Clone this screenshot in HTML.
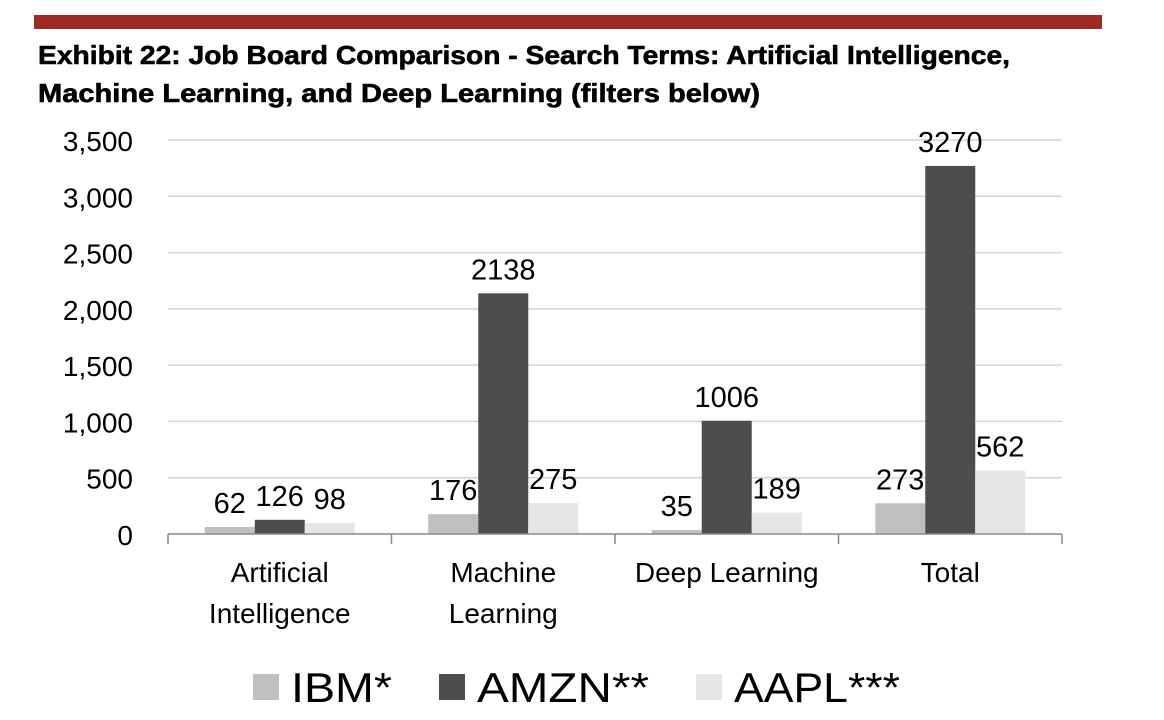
<!DOCTYPE html>
<html><head><meta charset="utf-8"><style>
html,body{margin:0;padding:0;background:#fff;}
svg{display:block;font-family:"Liberation Sans","DejaVu Sans",sans-serif;}
</style></head><body>
<svg id="chart" width="1164" height="720" viewBox="0 0 1164 720" xmlns="http://www.w3.org/2000/svg">
<rect x="34" y="15" width="1068" height="14" fill="#9e2a23"/>
<text x="38" y="64" font-size="26" font-weight="bold" stroke="#000" stroke-width="0.6" textLength="972" lengthAdjust="spacingAndGlyphs">Exhibit 22: Job Board Comparison - Search Terms: Artificial Intelligence,</text>
<text x="38" y="102" font-size="26" font-weight="bold" stroke="#000" stroke-width="0.6" textLength="722" lengthAdjust="spacingAndGlyphs">Machine Learning, and Deep Learning (filters below)</text>
<g id="grid"></g><g id="bars"></g><g id="axis"></g><g id="legend"></g>
</svg>
<script>
const categories = [["Artificial","Intelligence"],["Machine","Learning"],["Deep Learning"],["Total"]];
const seriesNames = ["IBM*","AMZN**","AAPL***"];
const ibm = [62,176,35,273];
const amzn = [126,2138,1006,3270];
const aapl = [98,275,189,562];
const yTicks = [0,500,1000,1500,2000,2500,3000,3500];
const yTickLabels = ["0","500","1,000","1,500","2,000","2,500","3,000","3,500"];
const series = [ibm,amzn,aapl];
const colors = ["#bfbfbf","#4d4d4d","#e6e6e6"];
const NS="http://www.w3.org/2000/svg";
const x0=168,x1=1062,yBase=534,yTop=140,yMax=3500;
const y=v=>yBase-(v/yMax)*(yBase-yTop);
const gw=(x1-x0)/categories.length, bw=50, pad=(gw-3*bw)/2;
function mk(t,a,p){const e=document.createElementNS(NS,t);for(const k in a)e.setAttribute(k,a[k]);p.appendChild(e);return e;}
const grid=document.getElementById('grid'),bars=document.getElementById('bars'),axis=document.getElementById('axis'),legend=document.getElementById('legend');
yTicks.forEach((t,i)=>{
  if(t>0){const l=mk('line',{x1:x0,x2:x1,y1:y(t),y2:y(t),stroke:'#d4d4d4','stroke-width':1.5},grid);
  
  }
  const tx=mk('text',{x:133,y:y(t)+11,'font-size':28,'text-anchor':'end',fill:'#000'},axis);
  tx.textContent=yTickLabels[i];
  
  
});
categories.forEach((c,ci)=>{
  series.forEach((s,si)=>{
    const bx=x0+ci*gw+pad+si*bw;
    const r=mk('rect',{x:bx,y:y(s[ci]),width:bw,height:yBase-y(s[ci]),fill:colors[si]},bars);
    
    
    const lb=mk('text',{x:bx+bw/2,y:y(s[ci])-14,'font-size':29,'text-anchor':'middle',fill:'#000'},bars);
    lb.textContent=s[ci];
    
    
  });
  const cx=x0+ci*gw+gw/2;
  c.forEach((line,li)=>{
    const t=mk('text',{x:cx,y:582+li*41,'font-size':28,'text-anchor':'middle',fill:'#000'},axis);
    t.textContent=line;
    
    
  });
});
const ax=mk('line',{x1:x0,x2:x1,y1:yBase,y2:yBase,stroke:'#888','stroke-width':1.5},axis);


for(let i=0;i<=categories.length;i++){
  const tk=mk('line',{x1:x0+i*gw,x2:x0+i*gw,y1:yBase,y2:yBase+10,stroke:'#888','stroke-width':1.5},axis);
  
  
}
const legX=[253,439,696], legW=[101,172,166];
seriesNames.forEach((n,i)=>{
  const sq=mk('rect',{x:legX[i],y:674,width:26,height:26,fill:colors[i]},legend);
  
  
  const t=mk('text',{x:legX[i]+38,y:702,'font-size':42,fill:'#000',textLength:legW[i],lengthAdjust:'spacingAndGlyphs'},legend);
  t.textContent=n;
  
  
});
</script>
</body></html>
